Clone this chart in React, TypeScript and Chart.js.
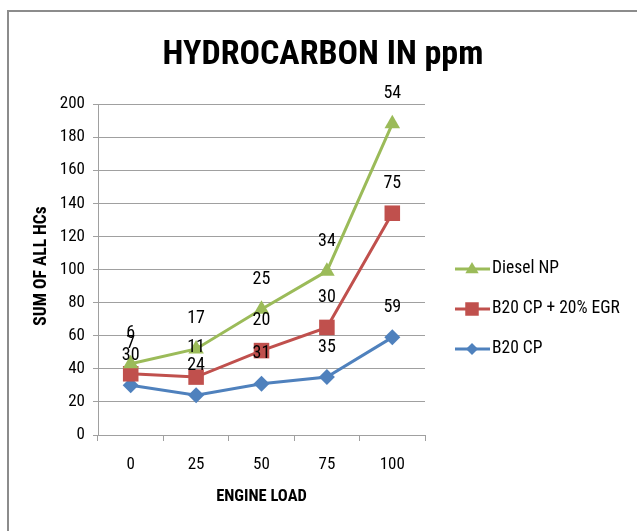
import { useEffect, useRef } from "react";
import { Chart, registerables } from "chart.js";

Chart.register(...registerables);

const categories = ["0", "25", "50", "75", "100"];
const b20cp = [30, 24, 31, 35, 59];
const b20cpEgr = [7, 11, 20, 30, 75];
const dieselNp = [6, 17, 25, 34, 54];
const seriesNames = ["Diesel NP", "B20 CP + 20% EGR", "B20 CP"];
const yMin = 0;
const yMax = 200;
const yStep = 20;

const FONT = '"Liberation Sans Narrow", "Roboto Condensed", "DejaVu Sans Condensed", Roboto, sans-serif';
const GREEN = "#9BBB59";
const RED = "#C0504D";
const BLUE = "#4F81BD";

// stacked-line table built from the individual series (Excel "stacked line")
const cumRed = b20cp.map((v, i) => v + b20cpEgr[i]);
const cumGreen = cumRed.map((v, i) => v + dieselNp[i]);

function drawMarker(ctx: CanvasRenderingContext2D, style: string, x: number, y: number, r: number) {
  ctx.beginPath();
  if (style === "triangle") {
    ctx.moveTo(x, y - r);
    ctx.lineTo(x + r * 0.95, y + r * 0.6);
    ctx.lineTo(x - r * 0.95, y + r * 0.6);
  } else if (style === "rect") {
    const s = r * 0.75;
    ctx.rect(x - s, y - s, 2 * s, 2 * s);
  } else {
    ctx.moveTo(x - r, y);
    ctx.lineTo(x, y - r);
    ctx.lineTo(x + r, y);
    ctx.lineTo(x, y + r);
  }
  ctx.closePath();
  ctx.fill();
}

const overlay = {
  id: "overlay",
  afterDraw(chart: any) {
    const ctx = chart.ctx as CanvasRenderingContext2D;
    const area = chart.chartArea;
    ctx.save();
    // outer border (top and left visible)
    ctx.strokeStyle = "#8c8c8c";
    ctx.lineWidth = 2;
    ctx.beginPath();
    ctx.moveTo(8, 540);
    ctx.lineTo(8, 11);
    ctx.lineTo(650, 11);
    ctx.stroke();

    // title
    ctx.fillStyle = "#000";
    ctx.textAlign = "center";
    ctx.textBaseline = "middle";
    ctx.font = `bold 34px ${FONT}`;
    ctx.fillText("HYDROCARBON IN ppm", 323, 55);

    // axis titles
    ctx.font = `bold 16.5px ${FONT}`;
    ctx.fillText("ENGINE LOAD", (area.left + area.right) / 2, 497);
    ctx.save();
    ctx.translate(42, 266);
    ctx.rotate(-Math.PI / 2);
    ctx.font = `bold 17.5px ${FONT}`;
    ctx.fillText("SUM OF ALL HCs", 0, 0);
    ctx.restore();

    // data labels (individual values, above stacked points)
    const indiv = [dieselNp, b20cpEgr, b20cp];
    ctx.font = `18px ${FONT}`;
    chart.data.datasets.forEach((_ds: any, di: number) => {
      const meta = chart.getDatasetMeta(di);
      meta.data.forEach((pt: any, i: number) => {
        ctx.fillText(String(indiv[di][i]), pt.x, pt.y - 30);
      });
    });

    // legend
    const colors = [GREEN, RED, BLUE];
    const styles = ["triangle", "rect", "rectRot"];
    const radii = [7, 9, 6];
    ctx.textAlign = "left";
    ctx.font = `17.5px ${FONT}`;
    seriesNames.forEach((name, i) => {
      const y = 269 + i * 40;
      ctx.strokeStyle = colors[i];
      ctx.lineWidth = 3;
      ctx.beginPath();
      ctx.moveTo(455, y);
      ctx.lineTo(490, y);
      ctx.stroke();
      ctx.fillStyle = colors[i];
      drawMarker(ctx, styles[i], 472, y, radii[i]);
      ctx.fillStyle = "#000";
      ctx.fillText(name, 492, y);
    });
    ctx.restore();
  },
};

export default function App() {
  const ref = useRef<HTMLCanvasElement | null>(null);
  useEffect(() => {
    if (!ref.current) return;
    const chart = new Chart(ref.current, {
      type: "line",
      data: {
        labels: categories,
        datasets: [
          {
            label: seriesNames[0],
            data: cumGreen,
            borderColor: GREEN,
            backgroundColor: GREEN,
            borderWidth: 3,
            pointStyle: "triangle",
            pointRadius: 9,
            pointBorderWidth: 0,
            tension: 0,
          },
          {
            label: seriesNames[1],
            data: cumRed,
            borderColor: RED,
            backgroundColor: RED,
            borderWidth: 3,
            pointStyle: "rect",
            pointRadius: 11,
            pointBorderWidth: 0,
            tension: 0,
          },
          {
            label: seriesNames[2],
            data: b20cp,
            borderColor: BLUE,
            backgroundColor: BLUE,
            borderWidth: 3,
            pointStyle: "rectRot",
            pointRadius: 8,
            pointBorderWidth: 0,
            tension: 0,
          },
        ],
      },
      options: {
        responsive: false,
        animation: false,
        layout: { padding: { left: 38, right: 212, top: 104, bottom: 26 } },
        plugins: {
          legend: { display: false },
          tooltip: { enabled: false },
          title: { display: false },
        },
        scales: {
          x: {
            offset: true,
            afterFit: (s: any) => {
              s.height = 70;
            },
            grid: {
              offset: true,
              drawOnChartArea: false,
              tickLength: 6,
              color: "#a0a0a0",
            },
            border: { color: "#a0a0a0" },
            ticks: {
              padding: 14,
              color: "#000",
              font: { family: FONT, size: 17 },
            },
          },
          y: {
            min: yMin,
            max: yMax,
            afterFit: (s: any) => {
              s.width = 60;
            },
            grid: { color: "#a0a0a0", tickLength: 5 },
            border: { color: "#a0a0a0" },
            ticks: {
              stepSize: yStep,
              padding: 8,
              color: "#000",
              font: { family: FONT, size: 17 },
            },
          },
        },
      },
      plugins: [overlay],
    });
    return () => chart.destroy();
  }, []);
  return (
    <div style={{ position: "absolute", left: 0, top: 0, width: 637, height: 531, background: "#fff" }}>
      <canvas ref={ref} width={637} height={531} />
    </div>
  );
}
